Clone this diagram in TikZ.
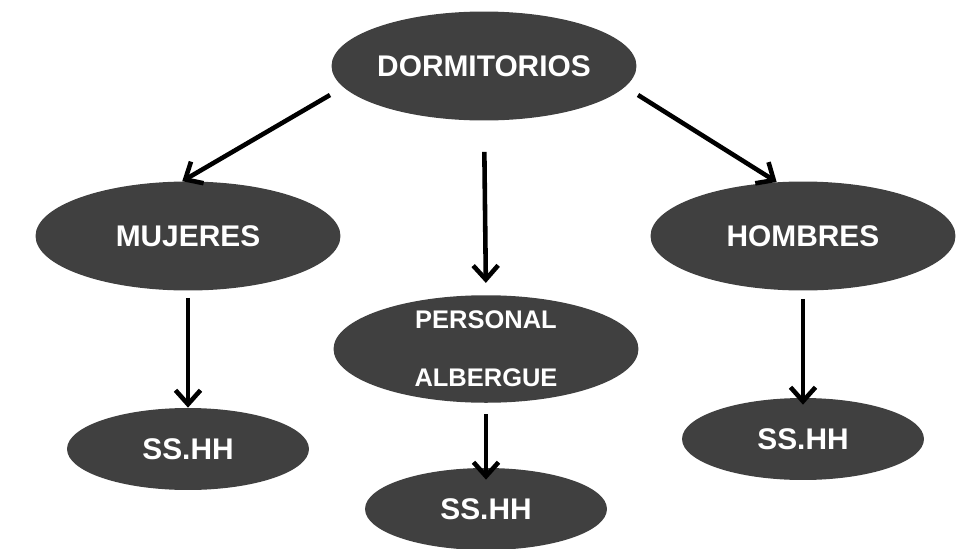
\documentclass[tikz,border=0pt]{standalone}
\usepackage{fontspec}
\setmainfont{Liberation Sans}
\usetikzlibrary{arrows.meta,shapes.geometric}
\definecolor{elG}{RGB}{64,64,64}

\begin{document}
\begin{tikzpicture}[x=0.02cm,y=-0.02cm,>={Straight Barb[length=2.8mm,width=5mm]},
  blob/.style={ellipse,fill=elG,text=white,inner sep=0pt,font=\bfseries\fontsize{17}{20}\selectfont},
  big/.style={blob,minimum width=6.1cm,minimum height=2.18cm},
  small/.style={blob,minimum width=4.84cm,minimum height=1.64cm},
  arr/.style={->,line width=2.6pt}]
\useasboundingbox (0,0) rectangle (964,548);
% top level
\node[big] (dorm) at (484,66) {DORMITORIOS};
% second level
\node[big] (muj) at (188,236) {MUJERES};
\node[big] (hom) at (803,236) {HOMBRES};
\node[big,minimum height=2.14cm,align=center,font=\bfseries\fontsize{14.5}{33}\selectfont] (pers) at (486,349) {PERSONAL\\ALBERGUE};
% bathrooms
\node[small] (ssM) at (188,449) {SS.HH};
\node[small] (ssP) at (486,509) {SS.HH};
\node[small] (ssH) at (803,439) {SS.HH};
% arrow starts that stand off the top ellipse
\coordinate (dl) at (330,95);
\coordinate (dr) at (638,95);
\draw[arr] (dl) -- (muj.96);
\draw[arr] (dr) -- (hom.116);
\draw[arr,shorten <=0.62cm,shorten >=0.24cm] (dorm.south) -- (pers.north);
\draw[arr,shorten <=0.14cm] (muj.south) -- (ssM.north);
\draw[arr,shorten <=0.16cm,shorten >=-0.14cm] (hom.south) -- (ssH.north);
\draw[arr,shorten <=0.22cm,shorten >=-0.24cm] (pers.south) -- (ssP.north);
\end{tikzpicture}
\end{document}
